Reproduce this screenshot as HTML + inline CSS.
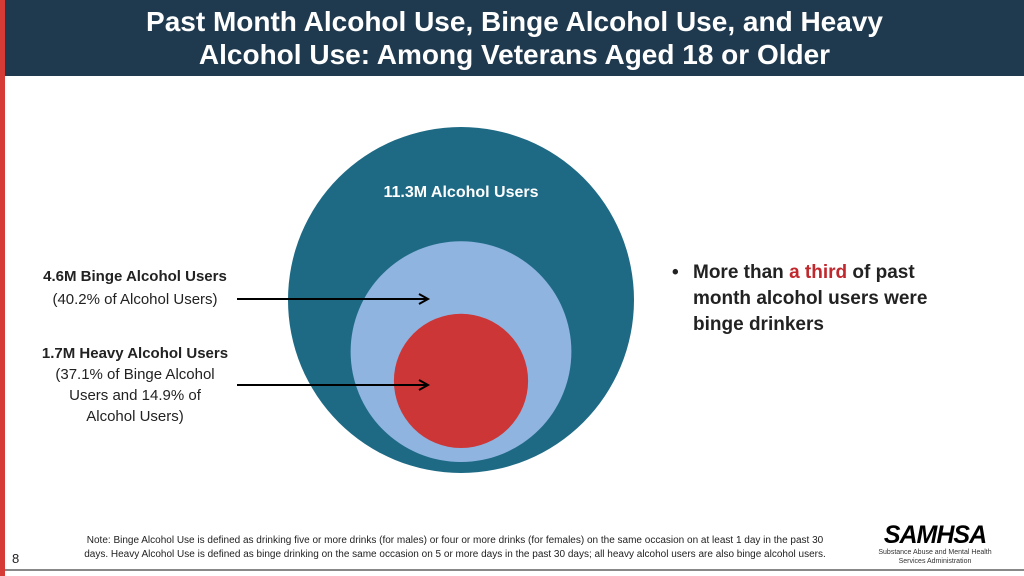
<!DOCTYPE html>
<html><head><meta charset="utf-8"><style>
body{margin:0;width:1024px;height:576px;position:relative;background:#fff;font-family:"Liberation Sans","DejaVu Sans",sans-serif;overflow:hidden}
#hdr{position:absolute;left:5px;top:0;width:1019px;height:76px;background:#1f3a4f;color:#fff;text-align:center;font-size:28px;line-height:33px;padding-top:5px;box-sizing:border-box;font-weight:bold}
#redbar{position:absolute;left:0;top:0;width:5px;height:576px;background:#d63b35}
.t{position:absolute;color:#222}
</style></head><body>
<div id="redbar"></div>
<div id="hdr">Past Month Alcohol Use, Binge Alcohol Use, and Heavy<br>Alcohol Use: Among Veterans Aged 18 or Older</div>
<svg id="chart" width="1024" height="576" style="position:absolute;left:0;top:0"></svg>
<div class="t" style="left:20px;top:265px;width:230px;text-align:center;font-size:15px;line-height:23px"><b>4.6M Binge Alcohol Users</b><br>(40.2% of Alcohol Users)</div>
<div class="t" style="left:20px;top:343px;width:230px;text-align:center;font-size:15px;line-height:21px"><b>1.7M Heavy Alcohol Users</b><br>(37.1% of Binge Alcohol<br>Users and 14.9% of<br>Alcohol Users)</div>
<div class="t" style="left:672px;top:260px;width:260px;font-size:19px;line-height:26px;font-weight:bold;padding-left:21px"><span style="position:absolute;left:0">•</span>More than <span style="color:#c0282d">a third</span> of past month alcohol users were binge drinkers</div>
<div class="t" style="left:60px;top:534px;width:790px;text-align:center;font-size:10px;line-height:14px">Note: Binge Alcohol Use is defined as drinking five or more drinks (for males) or four or more drinks (for females) on the same occasion on at least 1 day in the past 30<br>days. Heavy Alcohol Use is defined as binge drinking on the same occasion on 5 or more days in the past 30 days; all heavy alcohol users are also binge alcohol users.</div>
<div class="t" style="left:12px;top:551px;font-size:13px">8</div>
<div style="position:absolute;left:870px;top:522px;width:130px;text-align:center">
<div style="font-size:25px;font-weight:bold;font-style:italic;line-height:26px;letter-spacing:-1px">SAMHSA</div>
<div style="font-size:7px;line-height:9px;color:#333;white-space:nowrap">Substance Abuse and Mental Health<br>Services Administration</div></div>
<div style="position:absolute;left:5px;top:569px;width:1019px;height:2px;background:#888"></div>
<script>
const categories=["Alcohol Users","Binge Alcohol Users","Heavy Alcohol Users"];
const values=[11.3,4.6,1.7];
const colors=["#1e6a85","#8fb4e0","#cc3636"];
const svg=document.getElementById('chart');
const NS="http://www.w3.org/2000/svg";
const cx=461,outerBottom=473,maxR=173,gaps=[0,11,14];
function rScale(v){return maxR*Math.sqrt(v/values[0]);}
let bottom=outerBottom;const centers=[];
values.forEach((v,i)=>{
 const r=rScale(v);bottom-=gaps[i];const cy=bottom-r;
 const c=document.createElementNS(NS,'circle');
 c.setAttribute('cx',cx);c.setAttribute('cy',cy);c.setAttribute('r',r);c.setAttribute('fill',colors[i]);
 
 
 svg.appendChild(c);centers.push(cy);
});
const lbl=document.createElementNS(NS,'text');
lbl.setAttribute('x',cx);lbl.setAttribute('y',197);lbl.setAttribute('text-anchor','middle');
lbl.setAttribute('fill','#fff');lbl.setAttribute('font-size','16');lbl.setAttribute('font-weight','bold');lbl.setAttribute('font-family','Liberation Sans, sans-serif');
lbl.textContent=values[0]+'M '+categories[0];


svg.appendChild(lbl);
[[299],[385]].forEach((a,i)=>{
 const y=a[0];
 const g=document.createElementNS(NS,'g');
 
 
 g.innerHTML=`<line x1="237" y1="${y}" x2="426" y2="${y}" stroke="#000" stroke-width="2"/><polyline points="419,${y-5} 428,${y} 419,${y+5}" fill="none" stroke="#000" stroke-width="2"/>`;
 svg.appendChild(g);
});
</script>
</body></html>
